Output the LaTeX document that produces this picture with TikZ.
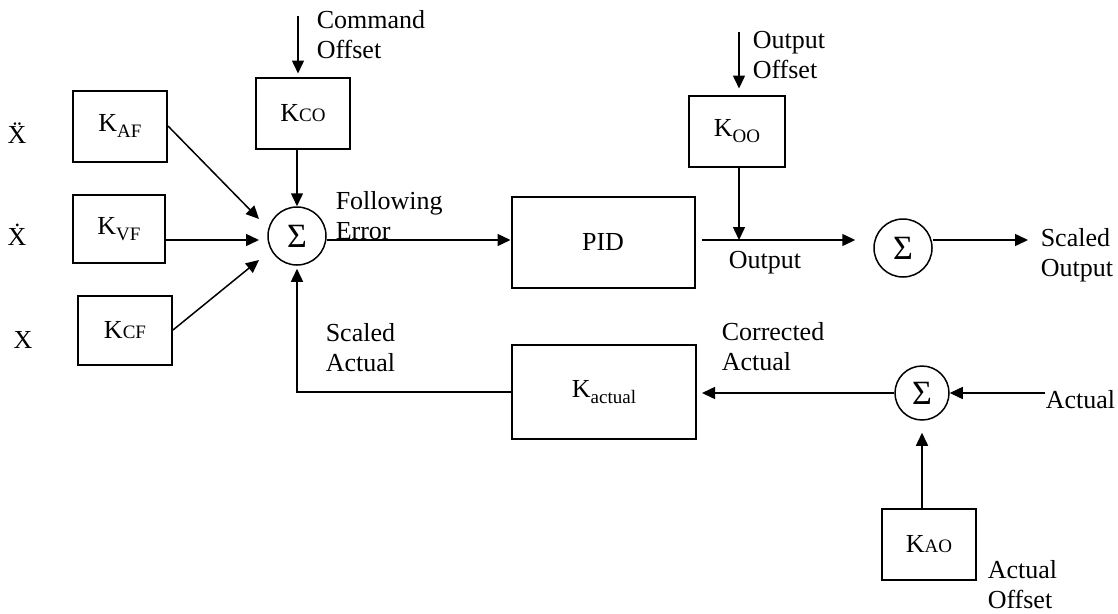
\documentclass[tikz,border=0pt]{standalone}
\usepackage{fontspec}
\setmainfont{Liberation Serif}
\usetikzlibrary{arrows.meta}

\newcommand{\Klow}[1]{K\raisebox{-6pt}{\fontsize{19}{19}\selectfont #1}}
\newcommand{\Kup}[1]{K{\fontsize{19}{19}\selectfont #1}}

\begin{document}
\begin{tikzpicture}[x=1pt,y=-1pt,line width=1.5pt,>={Triangle[length=13pt,width=12pt]},
	font=\fontsize{26}{30}\selectfont,
	blk/.style={draw,line width=2pt,inner sep=0pt},
	summ/.style={draw,circle,minimum size=58pt,inner sep=0pt,font=\fontsize{34}{34}\selectfont},
	lbl/.style={anchor=west,align=left,inner sep=0pt}]
	\useasboundingbox (0,0) rectangle (1118,613);
	
	% inputs
	\node[anchor=base] (xacc) at (17,143) {\"X};
	\node[anchor=base] (xvel) at (17,245) {\.X};
	\node[anchor=base] (xpos) at (23,348) {X};
	
	% gains and sums
	\node[blk,minimum width=94pt,minimum height=71pt] (kaf) at (120,126) {\Klow{AF}};
	\node[blk,minimum width=92pt,minimum height=68pt] (kvf) at (119,229) {\Klow{VF}};
	\node[blk,minimum width=94pt,minimum height=69pt] (kcf) at (125,330) {\Kup{CF}};
	\node[blk,minimum width=94pt,minimum height=71pt] (kco) at (303,113) {\Kup{CO}};
	\node[summ] (s1) at (297,236) {Σ};
	\node[blk,minimum width=183pt,minimum height=91pt] (pid) at (603,242) {PID};
	\node[blk,minimum width=96pt,minimum height=71pt] (koo) at (737,131) {\Klow{OO}};
	\node[summ] (s2) at (903,248) {Σ};
	\node[blk,minimum width=184pt,minimum height=94pt] (kact) at (604,392) {\Klow{actual}};
	\node[summ,minimum size=54pt] (s3) at (922,393) {Σ};
	\node[blk,minimum width=94pt,minimum height=71pt] (kao) at (929,544) {\Kup{AO}};
	
	% labels
	\node[lbl] (lco) at (316,35) {Command\\Offset};
	\node[lbl] (lfe) at (335,216) {Following\\Error};
	\node[lbl] (loo) at (752,55) {Output\\Offset};
	\node[lbl] (lout) at (728,263) {Output};
	\node[lbl] (lso) at (1040,255) {Scaled\\Output};
	\node[lbl] (lsa) at (325,348) {Scaled\\Actual};
	\node[lbl] (lca) at (721,347) {Corrected\\Actual};
	\node[lbl] (lact) at (1045,400) {Actual};
	\node[lbl] (lao) at (987,585) {Actual\\Offset};
	
	% free ends
	\coordinate (co) at (298,16);
	\coordinate (oo) at (739,32);
	\coordinate (a1) at (259,219);
	\coordinate (a2) at (259,240);
	\coordinate (a3) at (259,260);
	\coordinate (sout) at (1028,240);
	
	% forward path
	\draw[->,shorten >=3pt] (co) -- (co |- kco.north);
	\draw[->] (kco.south -| s1) -- (s1.north);
	\draw[->] (kaf.east) -- (a1);
	\draw[->] (kvf.east |- a2) -- (a2);
	\draw[->] (kcf.east) -- (a3);
	\draw[->] (s1.east |- a2) -- (pid.west |- a2);
	\draw[->,shorten <=6pt,shorten >=18pt] (pid.east |- a2) -- (s2.west |- a2);
	\draw[->,shorten >=6pt] (oo) -- (oo |- koo.north);
	\draw[->] (koo.south -| oo) -- (oo |- a2);
	\draw[->] (s2.east |- a2) -- (sout);
	
	% feedback path
	\draw[->] (lact.west |- s3) -- (s3.east);
	\draw[->,shorten >=5pt] (s3.west) -- (kact.east |- s3.west);
	\draw[->,shorten >=3pt] (kact.west) -| (s1.south);
	\draw[->,shorten >=12pt] (kao.north -| s3) -- (s3.south);
\end{tikzpicture}
\end{document}
